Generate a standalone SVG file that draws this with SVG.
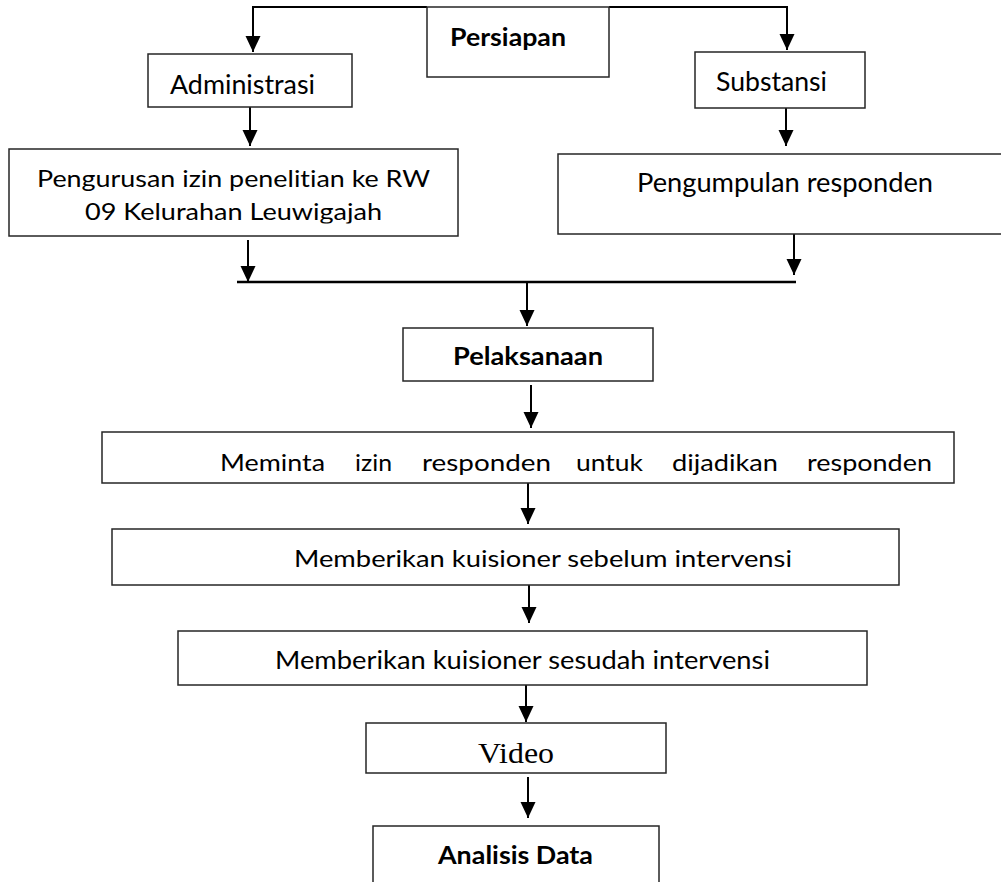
<svg xmlns="http://www.w3.org/2000/svg" width="1001" height="882" viewBox="0 0 1001 882">
<style>
.box{fill:#fff;stroke:#262626;stroke-width:1.5}
.t{font-family:Lato,"Open Sans","Liberation Sans",sans-serif;fill:#000;font-variant-ligatures:none}
.b{font-weight:bold}
.c{fill:none;stroke:#000;stroke-width:2}
</style>
<defs>
<marker id="ah" markerUnits="userSpaceOnUse" markerWidth="18" markerHeight="16" refX="16" refY="7.5" orient="auto">
<path d="M0,0 L16,7.5 L0,15 Z" fill="#000"/>
</marker>
<clipPath id="clipP"><rect x="0" y="140" width="470" height="83.5"/></clipPath>
</defs>
<rect width="1001" height="882" fill="#fff"/>
<g id="connectors">
<path class="c" d="M427,7 H253 V52" marker-end="url(#ah)"/>
<path class="c" d="M609,7 H787 V50" marker-end="url(#ah)"/>
<path class="c" d="M250,107 V146" marker-end="url(#ah)"/>
<path class="c" d="M786,106 V146" marker-end="url(#ah)"/>
<path class="c" d="M248,240 V282" marker-end="url(#ah)"/>
<path class="c" d="M794,233 V275" marker-end="url(#ah)"/>
<path class="c" d="M237,282 H796" style="stroke-width:2.5"/>
<path class="c" d="M527,282 V326" marker-end="url(#ah)"/>
<path class="c" d="M531,385 V428" marker-end="url(#ah)"/>
<path class="c" d="M528,483 V524" marker-end="url(#ah)"/>
<path class="c" d="M529,585 V623" marker-end="url(#ah)"/>
<path class="c" d="M526,681 V722" marker-end="url(#ah)"/>
<path class="c" d="M528,777 V818" marker-end="url(#ah)"/>
</g>
<g id="persiapan">
<rect class="box" x="427" y="7" width="182" height="70"/>
<text class="t b" x="450" y="46" font-size="25" textLength="116" lengthAdjust="spacingAndGlyphs">Persiapan</text>
</g>
<g id="administrasi">
<rect class="box" x="148" y="54" width="204" height="53"/>
<text class="t" x="170" y="94" font-size="26.5" textLength="145" lengthAdjust="spacingAndGlyphs">Administrasi</text>
</g>
<g id="substansi">
<rect class="box" x="695" y="52" width="170" height="56"/>
<text class="t" x="716" y="91" font-size="26.5" textLength="111" lengthAdjust="spacingAndGlyphs">Substansi</text>
</g>
<g id="pengurusan">
<rect class="box" x="9" y="149" width="449" height="87"/>
<g clip-path="url(#clipP)">
<text class="t" x="37" y="187" font-size="23" textLength="393" lengthAdjust="spacingAndGlyphs">Pengurusan izin penelitian ke RW</text>
<text class="t" x="85" y="220" font-size="23" textLength="297" lengthAdjust="spacingAndGlyphs">09 Kelurahan Leuwigajah</text>
</g>
</g>
<g id="pengumpulan">
<rect class="box" x="558" y="154" width="460" height="80"/>
<text class="t" x="637" y="192" font-size="26.5" textLength="296" lengthAdjust="spacingAndGlyphs">Pengumpulan responden</text>
</g>
<g id="pelaksanaan">
<rect class="box" x="403" y="328" width="250" height="53"/>
<text class="t b" x="453" y="365" font-size="24" textLength="150" lengthAdjust="spacingAndGlyphs">Pelaksanaan</text>
</g>
<g id="meminta">
<rect class="box" x="102" y="432" width="852" height="51"/>
<text class="t" y="471" font-size="23">
<tspan x="220" textLength="105" lengthAdjust="spacingAndGlyphs">Meminta</tspan>
<tspan x="355" textLength="37" lengthAdjust="spacingAndGlyphs">izin</tspan>
<tspan x="422" textLength="129" lengthAdjust="spacingAndGlyphs">responden</tspan>
<tspan x="576" textLength="67" lengthAdjust="spacingAndGlyphs">untuk</tspan>
<tspan x="672" textLength="106" lengthAdjust="spacingAndGlyphs">dijadikan</tspan>
<tspan x="807" textLength="125" lengthAdjust="spacingAndGlyphs">responden</tspan>
</text>
</g>
<g id="sebelum">
<rect class="box" x="112" y="529" width="787" height="56"/>
<text class="t" x="294" y="567" font-size="23" textLength="498" lengthAdjust="spacingAndGlyphs">Memberikan kuisioner sebelum intervensi</text>
</g>
<g id="sesudah">
<rect class="box" x="178" y="631" width="689" height="54"/>
<text class="t" x="275" y="669" font-size="25" textLength="495" lengthAdjust="spacingAndGlyphs">Memberikan kuisioner sesudah intervensi</text>
</g>
<g id="video">
<rect class="box" x="366" y="723" width="300" height="50"/>
<text x="478" y="763" font-family="'Liberation Serif','Times New Roman',serif" font-size="30" textLength="76" lengthAdjust="spacingAndGlyphs">Video</text>
</g>
<g id="analisis">
<rect class="box" x="373" y="826" width="286" height="80"/>
<text class="t b" x="438" y="864" font-size="24" textLength="155" lengthAdjust="spacingAndGlyphs">Analisis Data</text>
</g>
</svg>
